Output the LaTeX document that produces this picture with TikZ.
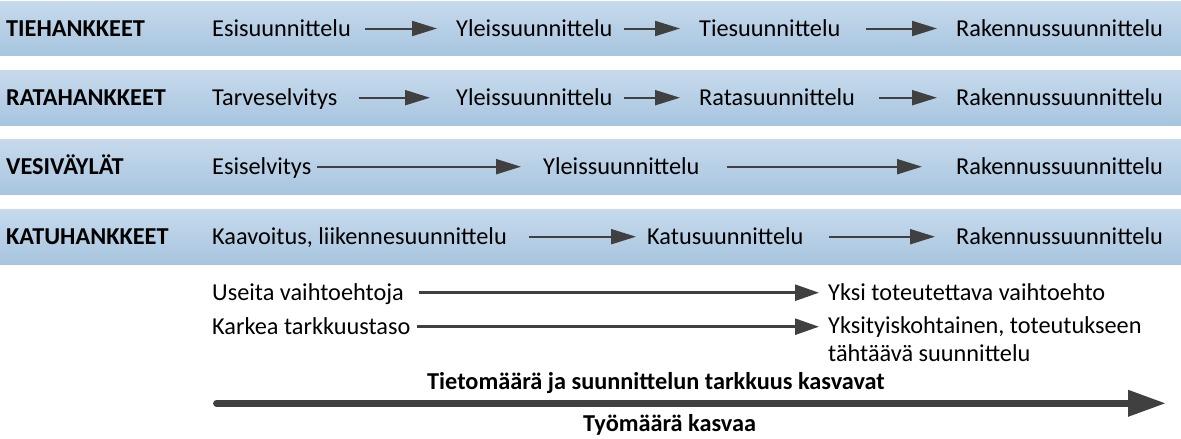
\documentclass[tikz,border=0pt]{standalone}
\usepackage{fontspec}
\setmainfont{Carlito}
\usetikzlibrary{arrows.meta,calc}
\definecolor{bandtop}{RGB}{199,218,236}
\definecolor{bandbot}{RGB}{167,197,223}
\definecolor{arrgray}{RGB}{64,64,64}
\begin{document}
\begin{tikzpicture}[x=1pt,y=-1pt,
  every node/.style={inner sep=0pt, text height=15pt, text depth=0pt, anchor=west,
    font=\fontsize{24.3pt}{28pt}\selectfont},
  band/.style={top color=bandtop, bottom color=bandbot, draw=none},
  lbl/.style={font=\fontsize{24.3pt}{28pt}\selectfont\bfseries},
  stagearr/.style={draw=arrgray, line width=2pt, -{Triangle[length=25pt,width=15pt]}},
  notearr/.style={draw=arrgray, line width=2.6pt, -{Triangle[length=24pt,width=16pt]}},
  bigarr/.style={draw=arrgray, line width=6.8pt, line cap=round, -{Triangle[length=38pt,width=25pt]}}]
\useasboundingbox (0,0) rectangle (1181,439);
% bands
\fill[band] (0,1) rectangle (1181,55);
\fill[band] (0,70) rectangle (1181,125);
\fill[band] (0,139) rectangle (1181,194);
\fill[band] (0,209) rectangle (1181,264);
% row 1
\node[lbl] (l1) at (6,28.5) {TIEHANKKEET};
\node (r1a) at (212,28.5) {Esisuunnittelu};
\node (r1b) at (456,28.5) {Yleissuunnittelu};
\node (r1c) at (699,28.5) {Tiesuunnittelu};
\node (r1d) at (956,28.5) {Rakennussuunnittelu};
\draw[stagearr] ([xshift=14]r1a.east) -- ([xshift=-19]r1b.west);
\draw[stagearr] ([xshift=11]r1b.east) -- ([xshift=-19]r1c.west);
\draw[stagearr] ([xshift=25]r1c.east) -- ([xshift=-19]r1d.west);
% row 2
\node[lbl] (l2) at (6,97.7) {RATAHANKKEET};
\node (r2a) at (212,97.7) {Tarveselvitys};
\node (r2b) at (456,97.7) {Yleissuunnittelu};
\node (r2c) at (699,97.7) {Ratasuunnittelu};
\node (r2d) at (956,97.7) {Rakennussuunnittelu};
\draw[stagearr] ([xshift=21]r2a.east) -- ([xshift=-26]r2b.west);
\draw[stagearr] ([xshift=11]r2b.east) -- ([xshift=-19]r2c.west);
\draw[stagearr] ([xshift=24]r2c.east) -- ([xshift=-19]r2d.west);
% row 3
\node[lbl] (l3) at (6,166.7) {VESIVÄYLÄT};
\node (r3a) at (212,166.7) {Esiselvitys};
\node (r3b) at (543,166.7) {Yleissuunnittelu};
\node (r3c) at (956,166.7) {Rakennussuunnittelu};
\draw[stagearr] ([xshift=6]r3a.east) -- ([xshift=-22]r3b.west);
\draw[stagearr] ([xshift=27]r3b.east) -- ([xshift=-34]r3c.west);
% row 4
\node[lbl] (l4) at (6,236.7) {KATUHANKKEET};
\node (r4a) at (212,236.7) {Kaavoitus, liikennesuunnittelu};
\node (r4b) at (647,236.7) {Katusuunnittelu};
\node (r4c) at (956,236.7) {Rakennussuunnittelu};
\draw[stagearr] ([xshift=22]r4a.east) -- ([xshift=-11]r4b.west);
\draw[stagearr] ([xshift=25]r4b.east) -- ([xshift=-21]r4c.west);
% notes
\node (u1) at (212,292.7) {Useita vaihtoehtoja};
\node (y1) at (828,292.7) {Yksi toteutettava vaihtoehto};
\node (k1) at (212,326.7) {Karkea tarkkuustaso};
\node[anchor=base west, align=left] (yk) at (828,361) {Yksityiskohtainen, toteutukseen\\tähtäävä suunnittelu};
\draw[notearr] ([xshift=15]u1.east) -- ([xshift=-9]y1.west);
\draw[notearr] ([xshift=6]k1.east) -- ($(yk.west |- k1.east)+(-9,0)$);
% big arrow
\node[lbl] (t1) at (427,381.5) {Tietomäärä ja suunnittelun tarkkuus kasvavat};
\node[lbl] (t2) at (583,424.2) {Työmäärä kasvaa};
\coordinate (bs) at (216.5,403.3);
\coordinate (be) at (1166,403.3);
\draw[bigarr] (bs) -- (be);
\end{tikzpicture}
\end{document}
